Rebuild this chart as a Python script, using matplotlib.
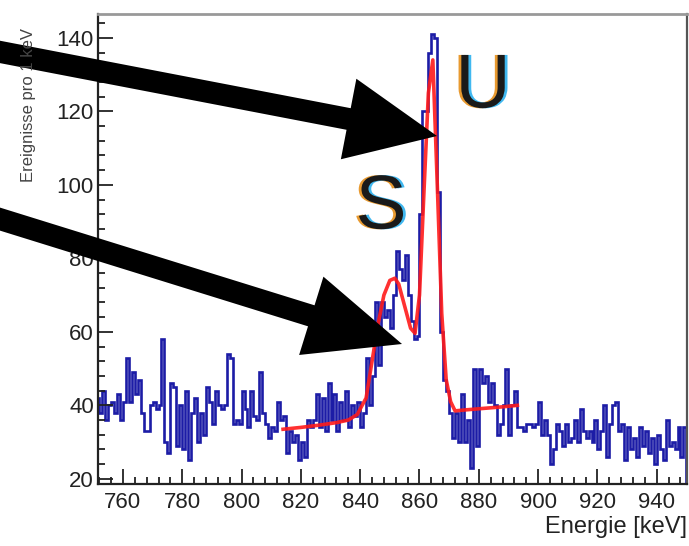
import numpy as np
import matplotlib
matplotlib.use("Agg")
import matplotlib.pyplot as plt
import matplotlib.patheffects as pe
from matplotlib.patches import FancyArrow
from matplotlib.ticker import MultipleLocator

plt.rcParams['font.family'] = ['Liberation Sans', 'DejaVu Sans']

# histogram: counts per 1 keV bin, first bin starts at 750 keV
bin_start = 750
counts = [
    40, 42, 38, 44, 36, 40, 41, 38, 43, 36,   # 750
    41, 53, 41, 49, 43, 47, 38, 33, 33, 40,   # 760
    41, 39, 40, 58, 30, 27, 46, 45, 29, 40,   # 770
    28, 44, 25, 38, 42, 30, 38, 32, 45, 41,   # 780
    35, 44, 40, 39, 40, 54, 53, 35, 36, 35,   # 790
    44, 39, 34, 44, 37, 36, 49, 38, 35, 31,   # 800
    34, 33, 41, 36, 37, 27, 33, 30, 32, 25,   # 810
    30, 26, 36, 34, 36, 43, 34, 42, 33, 46,   # 820
    36, 43, 33, 41, 36, 44, 34, 40, 37, 41,   # 830
    34, 38, 53, 40, 48, 68, 51, 68, 64, 66,   # 840
    61, 70, 82, 77, 74, 81, 70, 63, 58, 59,   # 850
    92, 120, 120, 136, 141, 140, 98, 60, 47, 44,  # 860
    38, 31, 38, 30, 43, 30, 36, 23, 50, 29,   # 870
    50, 46, 48, 41, 46, 40, 32, 35, 40, 50,   # 880
    32, 40, 44, 34, 34, 33, 35, 35, 34, 35,   # 890
    41, 32, 36, 32, 24, 28, 35, 33, 29, 35,   # 900
    30, 31, 36, 30, 39, 33, 31, 33, 30, 36,   # 910
    28, 33, 40, 26, 35, 40, 41, 33, 35, 25,   # 920
    34, 28, 31, 26, 34, 29, 33, 27, 31, 24,   # 930
    32, 28, 25, 36, 29, 30, 28, 34, 26, 34,   # 940
]

# fit curve
fit_e = [814, 820, 826, 832, 836, 839, 842, 844, 846, 848, 850, 851.7, 853,
         855, 857, 858.5, 860, 861.5, 863, 864.5, 866, 867.5, 869, 870.5,
         872, 876, 882, 888, 893]
fit_v = [33.5, 34, 34.6, 35.3, 36, 37.5, 42, 52, 62, 70, 74, 74.6, 73,
         67, 61, 59.6, 70, 98, 125, 134, 100, 65, 47, 41,
         38.5, 38.8, 39.2, 39.6, 40]

edges = np.arange(bin_start, bin_start + len(counts) + 1)

fig = plt.figure(figsize=(6.89, 5.46), dpi=100)
ax = fig.add_axes([98/689, 1 - 484/546, (687 - 98)/689, (484 - 14)/546])

ax.stairs(counts, edges, color='#1c1ca6', lw=1.9)
ax.plot(fit_e, fit_v, color='#ff1a1a', lw=2.6, alpha=0.9)

ax.set_xlim(751.6, 950.2)
ax.set_ylim(18.6, 146.5)
ax.xaxis.set_major_locator(MultipleLocator(20))
ax.xaxis.set_minor_locator(MultipleLocator(4))
ax.yaxis.set_major_locator(MultipleLocator(20))
ax.yaxis.set_minor_locator(MultipleLocator(4))
ax.tick_params(which='both', direction='in', top=False, right=False,
               colors='#222222', labelsize=16, width=1.3)
ax.tick_params(which='major', length=11)
ax.tick_params(which='minor', length=5)
ax.tick_params(axis='x', pad=6)
ax.tick_params(axis='y', pad=3)
for s in ['left', 'bottom']:
    ax.spines[s].set_linewidth(1.6)
    ax.spines[s].set_color('#222222')
ax.spines['top'].set_color('#999999')
ax.spines['top'].set_linewidth(2)
ax.spines['right'].set_color('#555555')
ax.spines['right'].set_linewidth(1.6)

ax.set_xlabel('Energie [keV]', fontsize=17, color='#222222', loc='right', labelpad=2)
fig.text(29/689, 1 - 105/546, 'Ereignisse pro 1 keV', rotation=90, fontsize=12,
         color='#444444', ha='center', va='center')

# overlay in pixel coordinates for arrows and labels
ov = fig.add_axes([0, 0, 1, 1])
ov.set_xlim(0, 689)
ov.set_ylim(546, 0)
ov.axis('off')
ov.patch.set_alpha(0)

ov.add_patch(FancyArrow(-10, 50, 447, 86, width=22, head_width=82, head_length=90,
                        length_includes_head=True, color='black', lw=0))
ov.add_patch(FancyArrow(-10, 216, 412, 128, width=22, head_width=82, head_length=95,
                        length_includes_head=True, color='black', lw=0))

fringe = [pe.SimplePatchShadow(offset=(-2, 0), shadow_rgbFace='#e89a30', alpha=1),
          pe.SimplePatchShadow(offset=(2, 0), shadow_rgbFace='#40b8f0', alpha=1),
          pe.Normal()]
for lbl, x, y in [('U', 483, 88), ('S', 381, 209)]:
    ov.text(x, y, lbl, fontsize=55, color='#1a1a1a', ha='center', va='center',
            path_effects=fringe)

fig.savefig('out.png', dpi=100)
